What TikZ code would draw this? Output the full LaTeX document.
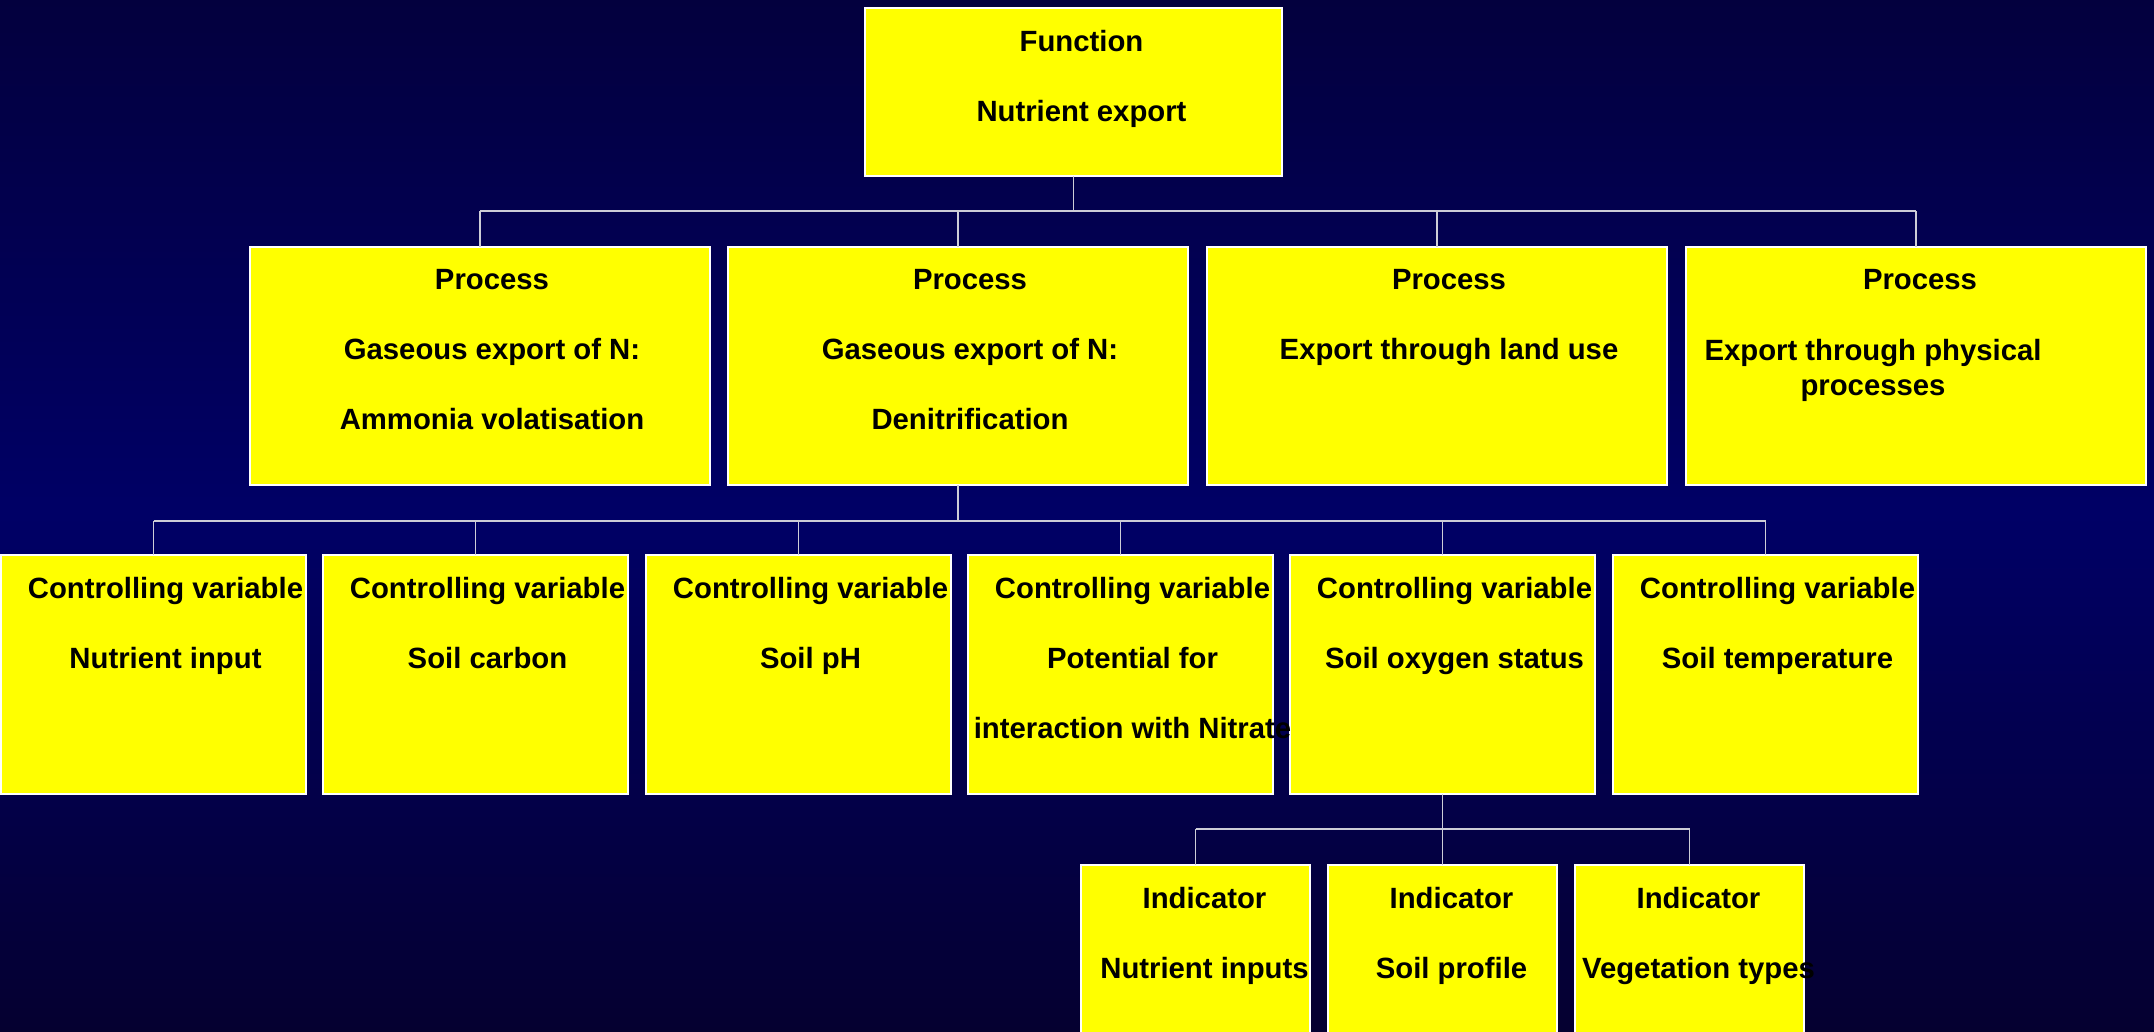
\documentclass[tikz,border=0pt]{standalone}
\usepackage{fontspec}
\setmainfont{Liberation Sans}
\definecolor{bgtop}{RGB}{3,0,62}
\definecolor{bgmid}{RGB}{0,0,102}
\definecolor{bgbot}{RGB}{5,0,48}
\definecolor{boxfill}{RGB}{255,255,0}
\definecolor{wire}{RGB}{205,205,215}
\begin{document}
\begin{tikzpicture}[x=1pt,y=-1pt,
  box/.style={draw=white, line width=1.6pt, fill=boxfill, rectangle,
    inner sep=0pt, outer sep=0pt, anchor=north west},
  lbl/.style={inner sep=0pt, align=center, anchor=north, text=black,
    font=\fontsize{29.3}{35}\selectfont\bfseries},
  link/.style={draw=wire, line width=1.4pt}]
\useasboundingbox (0,0) rectangle (2154,1031);
\shade[top color=bgtop, bottom color=bgbot, middle color=bgmid] (0,0) rectangle (2154,1031);
\begin{scope}
\clip (0,0) rectangle (2154,1031);

% function
\node[box, minimum width=417pt, minimum height=168pt] (fn) at (865,8) {};

% processes
\foreach \i/\x in {1/250,2/728,3/1207,4/1686}
  \node[box, minimum width=460pt, minimum height=238pt] (p\i) at (\x,247) {};

% controlling variables
\foreach \i/\x in {1/1,2/323,3/646,4/968,5/1290,6/1613}
  \node[box, minimum width=305pt, minimum height=239pt] (c\i) at (\x,555) {};

% indicators
\foreach \i/\x in {1/1081,2/1328,3/1575}
  \node[box, minimum width=229pt, minimum height=210pt] (n\i) at (\x,865) {};

% connectors
\coordinate (j1) at (fn.south |- 0,211);
\coordinate (j2) at (p2.south |- 0,521);
\coordinate (j3) at (c5.south |- 0,829);
\draw[link] (fn.south) -- (j1);
\draw[link] (p1.north |- j1) -- (p4.north |- j1);
\foreach \i in {1,...,4} \draw[link] (p\i.north |- j1) -- (p\i.north);
\draw[link] (p2.south) -- (j2);
\draw[link] (c1.north |- j2) -- (c6.north |- j2);
\foreach \i in {1,...,6} \draw[link] (c\i.north |- j2) -- (c\i.north);
\draw[link] (c5.south) -- (j3);
\draw[link] (n1.north |- j3) -- (n3.north |- j3);
\foreach \i in {1,...,3} \draw[link] (n\i.north |- j3) -- (n\i.north);

% texts
\node[lbl] (fn-t) at ([xshift=8pt,yshift=-22pt]fn.north) {Function\\[35pt]Nutrient export};
\node[lbl] (p1-t) at ([xshift=12pt,yshift=-22pt]p1.north) {Process\\[35pt]Gaseous export of N:\\[35pt]Ammonia volatisation};
\node[lbl] (p2-t) at ([xshift=12pt,yshift=-22pt]p2.north) {Process\\[35pt]Gaseous export of N:\\[35pt]Denitrification};
\node[lbl] (p3-t) at ([xshift=12pt,yshift=-22pt]p3.north) {Process\\[35pt]Export through land use};
\node[lbl] (p4-t) at ([xshift=4pt,yshift=-22pt]p4.north) {Process};
\node[lbl] (p4-u) at ([yshift=-92pt]p4.north -| 1873,0) {Export through physical\\processes};

\node[lbl] (c1-t) at ([xshift=12pt,yshift=-22pt]c1.north) {Controlling variable\\[35pt]Nutrient input};
\node[lbl] (c2-t) at ([xshift=12pt,yshift=-22pt]c2.north) {Controlling variable\\[35pt]Soil carbon};
\node[lbl] (c3-t) at ([xshift=12pt,yshift=-22pt]c3.north) {Controlling variable\\[35pt]Soil pH};
\node[lbl] (c4-t) at ([xshift=12pt,yshift=-22pt]c4.north) {Controlling variable\\[35pt]Potential for\\[35pt]interaction with Nitrate};
\node[lbl] (c5-t) at ([xshift=12pt,yshift=-22pt]c5.north) {Controlling variable\\[35pt]Soil oxygen status};
\node[lbl] (c6-t) at ([xshift=12pt,yshift=-22pt]c6.north) {Controlling variable\\[35pt]Soil temperature};

\node[lbl] (n1-t) at ([xshift=9pt,yshift=-22pt]n1.north) {Indicator\\[35pt]Nutrient inputs};
\node[lbl] (n2-t) at ([xshift=9pt,yshift=-22pt]n2.north) {Indicator\\[35pt]Soil profile};
\node[lbl] (n3-t) at ([xshift=9pt,yshift=-22pt]n3.north) {Indicator\\[35pt]Vegetation types};
\end{scope}
\end{tikzpicture}
\end{document}
